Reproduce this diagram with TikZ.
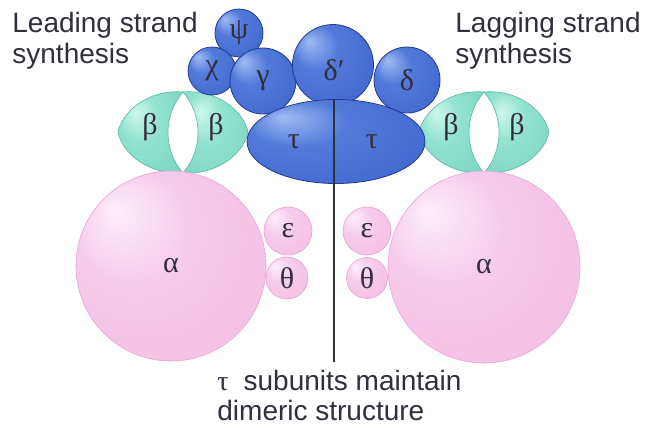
\documentclass[tikz,border=0pt]{standalone}
\usepackage{fontspec}
\setmainfont{Liberation Sans}
\newfontfamily\gk{Liberation Serif}
\usetikzlibrary{shapes.geometric}
\definecolor{bhi}{RGB}{160,186,242}
\definecolor{bmid}{RGB}{82,122,218}
\definecolor{bmdd}{RGB}{64,102,205}
\definecolor{bdk}{RGB}{36,62,160}
\definecolor{bline}{RGB}{35,58,145}
\definecolor{phi}{RGB}{253,238,250}
\definecolor{pmid}{RGB}{247,204,235}
\definecolor{pmdd}{RGB}{243,189,226}
\definecolor{pdk}{RGB}{232,164,210}
\definecolor{tehi}{RGB}{205,248,236}
\definecolor{temid}{RGB}{145,226,206}
\definecolor{temdd}{RGB}{122,212,192}
\definecolor{tedk}{RGB}{88,186,166}
\definecolor{txt}{RGB}{50,46,60}
\pgfdeclareradialshading{bsph}{\pgfpoint{-15bp}{15bp}}{color(0bp)=(bhi); color(14bp)=(bmid); color(38bp)=(bmdd); color(50bp)=(bdk)}
\pgfdeclareradialshading{psph}{\pgfpoint{-15bp}{15bp}}{color(0bp)=(phi); color(15bp)=(pmid); color(40bp)=(pmdd); color(50bp)=(pdk)}
\pgfdeclareradialshading{tsph}{\pgfpoint{-12bp}{12bp}}{color(0bp)=(tehi); color(15bp)=(temid); color(40bp)=(temdd); color(50bp)=(tedk)}
\tikzset{
  greek/.style={font=\gk\fontsize{15}{15}\selectfont, text=txt},
  bball/.style={circle, shading=bsph, draw=bline, line width=0.4pt, inner sep=0pt, greek},
  pball/.style={circle, shading=psph, draw=pdk, line width=0.3pt, inner sep=0pt, greek},
  tauell/.style={ellipse, shading=bsph, draw=bline, line width=0.4pt, inner sep=0pt},
  leaf/.style={shading=tsph, draw=tedk, line width=0.3pt},
  caption/.style={font=\fontsize{14}{15.5}\selectfont, text=txt, inner sep=0pt, anchor=base west},
  stem/.style={draw=txt, line width=0.8pt},
}
\begin{document}
\begin{tikzpicture}[x=0.5pt,y=-0.5pt]
\useasboundingbox[fill=white] (0,0) rectangle (652,436);
% beta clamps
\foreach \cx in {183,484}{
  \path[leaf] (\cx,92) .. controls ({\cx-35},89) and ({\cx-61},112) .. ({\cx-65},132)
     .. controls ({\cx-61},153) and ({\cx-35},175) .. (\cx,173)
     .. controls ({\cx-20},150) and ({\cx-20},115) .. (\cx,92) -- cycle;
  \path[leaf] (\cx,92) .. controls ({\cx+35},89) and ({\cx+61},112) .. ({\cx+65},132)
     .. controls ({\cx+61},153) and ({\cx+35},175) .. (\cx,173)
     .. controls ({\cx+20},150) and ({\cx+20},115) .. (\cx,92) -- cycle;
}
\node[greek] (bL1) at (150,127) {β};
\node[greek] (bL2) at (216,127) {β};
\node[greek] (bR1) at (451,127) {β};
\node[greek] (bR2) at (517,127) {β};
% pink subunits
\node[pball, minimum size=95pt] (alphaL) at (171,266) {α};
\node[pball, minimum size=96pt] (alphaR) at (484,267) {α};
\node[pball, minimum size=21pt] (thetaL) at (287,278) {θ};
\node[pball, minimum size=24pt] (epsL) at (288,231) {ε};
\node[pball, minimum size=20.5pt] (thetaR) at (367,278) {θ};
\node[pball, minimum size=24pt] (epsR) at (367,231) {ε};
% blue clamp loader
\node[bball, minimum size=24pt] (psi) at (239,33) {ψ};
\node[bball, minimum size=24pt] (chi) at (212,71) {χ};
\node[bball, minimum size=33pt] (gamma) at (263,81) {γ};
\node[bball, minimum size=40.5pt] (deltap) at (333,65) {};
\node[greek] (deltaplbl) at (334,70) {δ′};
\node[bball, minimum size=33pt] (delta) at (407,80) {δ};
\node[tauell, minimum width=89pt, minimum height=42pt] (tau) at (336,141.5) {};
\node[greek] (tauL) at (294,142) {τ};
\node[greek] (tauR) at (372,142) {τ};
\coordinate (stemend) at (334,362);
\draw[stem] (tau.north -| stemend) -- (stemend);
% captions
\node[caption] (lead1) at (12,32) {Leading strand};
\node[caption] (lead2) at (12,63) {synthesis};
\node[caption] (lag1) at (455,32) {Lagging strand};
\node[caption] (lag2) at (455,63) {synthesis};
\node[caption] (dim1) at (217,390) {{\gk τ}\hspace{7.5pt}subunits maintain};
\node[caption] (dim2) at (217,420) {dimeric structure};
\end{tikzpicture}
\end{document}
